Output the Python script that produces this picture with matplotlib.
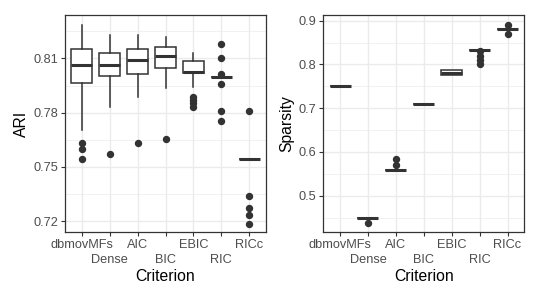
import matplotlib
matplotlib.use("Agg")
import matplotlib.pyplot as plt
from matplotlib.ticker import MultipleLocator, FormatStrFormatter

plt.rcParams['font.family'] = ['Liberation Sans', 'DejaVu Sans']

criteria = ["dbmovMFs", "Dense", "AIC", "BIC", "EBIC", "RIC", "RICc"]

# ARI box statistics
ari_whislo = [0.7703, 0.7829, 0.7887, 0.7936, 0.7943, 0.7995, 0.7544]
ari_q1     = [0.7963, 0.8000, 0.8015, 0.8048, 0.8019, 0.7995, 0.7544]
ari_med    = [0.8063, 0.8063, 0.8091, 0.8113, 0.8026, 0.7995, 0.7544]
ari_q3     = [0.8151, 0.8131, 0.8151, 0.8161, 0.8085, 0.7995, 0.7544]
ari_whishi = [0.8284, 0.8229, 0.8229, 0.8220, 0.8131, 0.7995, 0.7544]
ari_fliers = [
    [0.7630, 0.7597, 0.7544],
    [0.7570],
    [0.7630],
    [0.7652],
    [0.7887, 0.7869, 0.7851, 0.7832],
    [0.8179, 0.8100, 0.8013, 0.7956, 0.7808, 0.7753],
    [0.7808, 0.7338, 0.7271, 0.7233, 0.7187],
]

# Sparsity box statistics
sp_whislo = [0.750, 0.450, 0.559, 0.710, 0.775, 0.834, 0.881]
sp_q1     = [0.750, 0.450, 0.559, 0.710, 0.776, 0.834, 0.881]
sp_med    = [0.750, 0.450, 0.559, 0.710, 0.780, 0.834, 0.881]
sp_q3     = [0.750, 0.450, 0.559, 0.710, 0.787, 0.834, 0.881]
sp_whishi = [0.750, 0.450, 0.559, 0.710, 0.787, 0.834, 0.881]
sp_fliers = [
    [],
    [0.437],
    [0.583, 0.570],
    [],
    [],
    [0.830, 0.820, 0.810, 0.800],
    [0.891, 0.870],
]

DARK = "#333333"
GRID = "#EBEBEB"
TICKC = "#4D4D4D"


def stats(wl, q1, med, q3, wh, fl):
    out = []
    for i in range(len(wl)):
        out.append(dict(whislo=wl[i], q1=q1[i], med=med[i], q3=q3[i],
                        whishi=wh[i], fliers=fl[i], label=criteria[i]))
    return out


def style_ax(ax, ylabel, ylim, major, minor, fmt):
    ax.set_ylim(*ylim)
    ax.set_xlim(0.4, len(criteria) + 0.6)
    ax.yaxis.set_major_locator(MultipleLocator(major))
    ax.yaxis.set_minor_locator(MultipleLocator(minor))
    ax.yaxis.set_major_formatter(FormatStrFormatter(fmt))
    ax.set_xticks(range(1, len(criteria) + 1))
    ax.set_xticklabels(criteria)
    ax.grid(True, which="major", color=GRID, linewidth=1.0, zorder=0)
    ax.grid(True, which="minor", axis="y", color=GRID, linewidth=0.5, zorder=0)
    ax.set_axisbelow(True)
    for s in ax.spines.values():
        s.set_color(DARK)
        s.set_linewidth(0.9)
    ax.tick_params(axis="both", which="major", color=DARK, length=3, width=0.8,
                   labelcolor=TICKC, labelsize=9.2, pad=2)
    ax.tick_params(axis="y", which="minor", length=0)
    for i, t in enumerate(ax.xaxis.get_major_ticks()):
        if i % 2 == 1:
            t.set_pad(13)
    ax.set_xlabel("Criterion", fontsize=11.3, labelpad=2)
    ax.set_ylabel(ylabel, fontsize=11.3, labelpad=3)


fig = plt.figure(figsize=(5.39, 3.0), dpi=100)
ax1 = fig.add_axes([65 / 539, 68 / 300, 201 / 539, 217 / 300])
ax2 = fig.add_axes([323.3 / 539, 68 / 300, 201 / 539, 217 / 300])

common = dict(
    widths=0.75, showfliers=True, patch_artist=True,
    boxprops=dict(facecolor="white", edgecolor=DARK, linewidth=1.1),
    medianprops=dict(color=DARK, linewidth=2.2, solid_capstyle="butt"),
    whiskerprops=dict(color=DARK, linewidth=1.1),
    capprops=dict(linewidth=0),
    flierprops=dict(marker="o", markerfacecolor=DARK, markeredgecolor=DARK,
                    markersize=4.3, linestyle="none"),
)

ax1.bxp(stats(ari_whislo, ari_q1, ari_med, ari_q3, ari_whishi, ari_fliers),
        positions=range(1, 8), **common)
ax2.bxp(stats(sp_whislo, sp_q1, sp_med, sp_q3, sp_whishi, sp_fliers),
        positions=range(1, 8), **common)

style_ax(ax1, "ARI", (0.714, 0.834), 0.03, 0.015, "%.2f")
style_ax(ax2, "Sparsity", (0.417, 0.913), 0.1, 0.05, "%.1f")

fig.savefig("out.png", dpi=100)
